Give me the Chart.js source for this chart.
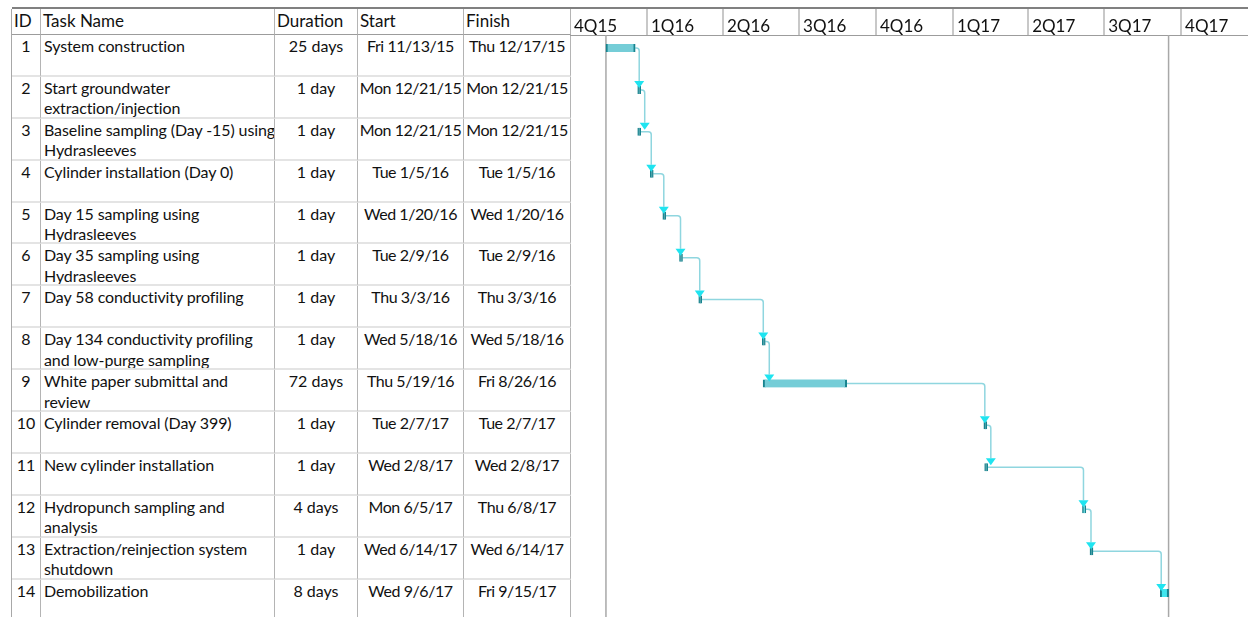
<!DOCTYPE html>
<html lang="en">
<head>
<meta charset="UTF-8">
<title>Project Schedule</title>
<script src="https://cdn.jsdelivr.net/npm/chart.js"></script>
<style>
    body {
        margin: 0;
        width: 1248px;
        height: 617px;
        overflow: hidden;
        position: relative;
        background: #fff;
        font-family: Lato, 'Open Sans', sans-serif;
        color: #111;
    }
    .topline {
        position: absolute;
        left: 12px;
        top: 7px;
        width: 1236px;
        height: 2px;
        background: #808080;
    }
    .grid {
        position: absolute;
        left: 11px;
        top: 9px;
        display: grid;
        grid-template-columns: 29px 234px 83px 106px 107px;
        grid-template-rows: 26px repeat(14, 41.9px);
        border-left: 1px solid #a8a8a8;
    }
    .cell {
        box-sizing: border-box;
        border-right: 1px solid #b4b4b4;
        border-bottom: 2px solid #e4e4e4;
        padding: 1px 0 0 3px;
        font-size: 16px;
        line-height: 20.5px;
        white-space: pre;
        overflow: hidden;
    }
    .cell.n { letter-spacing: -0.1px; }
    .cell.c { text-align: center; padding-left: 0; }
    .cell.d { letter-spacing: -0.45px; }
    .cell.h {
        font-size: 17px;
        line-height: 24px;
        padding: 0 2px;
        border-bottom: 1px solid #9c9c9c;
    }
    #gantt {
        position: absolute;
        left: 570px;
        top: 8px;
    }
</style>
</head>
<body>
<div class="topline"></div>
<div class="grid" id="table"></div>
<canvas id="gantt" width="678" height="614"></canvas>

<script>
    // ---- data ----
    const headers = ['ID', 'Task Name', 'Duration', 'Start', 'Finish'];
    const taskIds = [1, 2, 3, 4, 5, 6, 7, 8, 9, 10, 11, 12, 13, 14];
    const taskNames = [
        'System construction',
        'Start groundwater\nextraction/injection',
        'Baseline sampling (Day -15) using\nHydrasleeves',
        'Cylinder installation (Day 0)',
        'Day 15 sampling using\nHydrasleeves',
        'Day 35 sampling using\nHydrasleeves',
        'Day 58 conductivity profiling',
        'Day 134 conductivity profiling\nand low-purge sampling',
        'White paper submittal and\nreview',
        'Cylinder removal (Day 399)',
        'New cylinder installation',
        'Hydropunch sampling and\nanalysis',
        'Extraction/reinjection system\nshutdown',
        'Demobilization'
    ];
    const durations = ['25 days', '1 day', '1 day', '1 day', '1 day', '1 day', '1 day',
        '1 day', '72 days', '1 day', '1 day', '4 days', '1 day', '8 days'];
    const startLabels = ['Fri 11/13/15', 'Mon 12/21/15', 'Mon 12/21/15', 'Tue 1/5/16',
        'Wed 1/20/16', 'Tue 2/9/16', 'Thu 3/3/16', 'Wed 5/18/16', 'Thu 5/19/16',
        'Tue 2/7/17', 'Wed 2/8/17', 'Mon 6/5/17', 'Wed 6/14/17', 'Wed 9/6/17'];
    const finishLabels = ['Thu 12/17/15', 'Mon 12/21/15', 'Mon 12/21/15', 'Tue 1/5/16',
        'Wed 1/20/16', 'Tue 2/9/16', 'Thu 3/3/16', 'Wed 5/18/16', 'Fri 8/26/16',
        'Tue 2/7/17', 'Wed 2/8/17', 'Thu 6/8/17', 'Wed 6/14/17', 'Fri 9/15/17'];
    const startDates = ['2015-11-13', '2015-12-21', '2015-12-21', '2016-01-05',
        '2016-01-20', '2016-02-09', '2016-03-03', '2016-05-18', '2016-05-19',
        '2017-02-07', '2017-02-08', '2017-06-05', '2017-06-14', '2017-09-06'];
    const finishDates = ['2015-12-17', '2015-12-21', '2015-12-21', '2016-01-05',
        '2016-01-20', '2016-02-09', '2016-03-03', '2016-05-18', '2016-08-26',
        '2017-02-07', '2017-02-08', '2017-06-08', '2017-06-14', '2017-09-15'];
    const quarterLabels = ['4Q15', '1Q16', '2Q16', '3Q16', '4Q16', '1Q17', '2Q17', '3Q17', '4Q17'];
    const quarterStarts = ['2015-10-01', '2016-01-01', '2016-04-01', '2016-07-01', '2016-10-01',
        '2017-01-01', '2017-04-01', '2017-07-01', '2017-10-01'];
    const timelineEnd = '2017-12-20';

    // ---- table ----
    const table = document.getElementById('table');
    headers.forEach(h => {
        const d = document.createElement('div');
        d.className = 'cell h';
        d.textContent = h;
        table.appendChild(d);
    });
    taskIds.forEach((id, i) => {
        [[id, 'c'], [taskNames[i], 'n'], [durations[i], 'c'], [startLabels[i], 'c d'], [finishLabels[i], 'c d']]
            .forEach(([txt, cls]) => {
                const d = document.createElement('div');
                d.className = 'cell ' + cls;
                d.textContent = txt;
                table.appendChild(d);
            });
    });

    // ---- gantt ----
    const origin = Date.UTC(2015, 9, 1);
    function dayOf(s) {
        const [y, m, d] = s.split('-').map(Number);
        return (Date.UTC(y, m - 1, d) - origin) / 86400000;
    }
    const startDays = startDates.map(dayOf);
    const endDays = finishDates.map(s => dayOf(s) + 1);
    const quarterDays = quarterStarts.map(dayOf);
    const projectStart = Math.min(...startDays);
    const projectEnd = Math.max(...endDays);
    const brightTasks = [12, 14];

    function linkX(p, s) {
        const x0 = Math.max(p.x, p.base);
        return [x0, Math.max(x0 + 4, Math.min(s.x, s.base) + 1)];
    }

    const ganttDecor = {
        id: 'ganttDecor',
        beforeDatasetsDraw(chart) {
            const { ctx, chartArea: a, scales: { x } } = chart;
            ctx.save();
            // quarter separators in the header
            ctx.strokeStyle = '#c8c8c8';
            ctx.lineWidth = 2;
            quarterDays.slice(1).forEach(d => {
                const px = Math.round(x.getPixelForValue(d));
                ctx.beginPath();
                ctx.moveTo(px, 1);
                ctx.lineTo(px, a.top);
                ctx.stroke();
            });
            ctx.strokeStyle = '#9c9c9c';
            ctx.lineWidth = 1;
            ctx.beginPath();
            ctx.moveTo(0, a.top + 0.5);
            ctx.lineTo(a.right, a.top + 0.5);
            ctx.stroke();
            // project start / finish lines
            ctx.strokeStyle = '#a8a8a8';
            ctx.lineWidth = 1.5;
            [projectStart, projectEnd].forEach(d => {
                const px = x.getPixelForValue(d);
                ctx.beginPath();
                ctx.moveTo(px, a.top);
                ctx.lineTo(px, a.bottom);
                ctx.stroke();
            });
            // finish-to-start links
            const bars = chart.getDatasetMeta(0).data;
            ctx.strokeStyle = '#8fd6df';
            ctx.lineWidth = 1.5;
            for (let i = 0; i < bars.length - 1; i++) {
                const p = bars[i], s = bars[i + 1];
                const [x0, x1] = linkX(p, s);
                const y1 = s.y - 9;
                ctx.beginPath();
                ctx.moveTo(x0, p.y);
                ctx.arcTo(x1, p.y, x1, y1, 3);
                ctx.lineTo(x1, y1);
                ctx.stroke();
            }
            ctx.restore();
        },
        afterDatasetsDraw(chart) {
            const { ctx } = chart;
            const bars = chart.getDatasetMeta(0).data;
            ctx.save();
            ctx.fillStyle = '#1fe4f0';
            for (let i = 0; i < bars.length - 1; i++) {
                const p = bars[i], s = bars[i + 1];
                const x1 = linkX(p, s)[1];
                const tip = s.y - 2;
                ctx.beginPath();
                ctx.moveTo(x1 - 5, tip - 7);
                ctx.lineTo(x1 + 5, tip - 7);
                ctx.lineTo(x1, tip);
                ctx.closePath();
                ctx.fill();
            }
            ctx.restore();
        }
    };

    new Chart(document.getElementById('gantt'), {
        type: 'bar',
        data: {
            datasets: [{
                data: taskIds.map((id, i) => ({ x: [startDays[i], endDays[i]], y: i + 0.31 })),
                backgroundColor: c => {
                    const i = c.dataIndex;
                    if (endDays[i] - startDays[i] <= 1) return '#17838e';
                    return brightTasks.includes(i + 1) ? '#3fe6ee' : '#75cdd7';
                },
                borderColor: '#17838e',
                borderWidth: { left: 2, right: 2, top: 0, bottom: 0 },
                borderSkipped: false,
                barThickness: 8,
                minBarLength: 3
            }]
        },
        options: {
            indexAxis: 'y',
            responsive: false,
            animation: false,
            layout: { padding: 0 },
            plugins: {
                legend: { display: false },
                tooltip: { enabled: false }
            },
            scales: {
                x: {
                    type: 'linear',
                    position: 'top',
                    min: 0,
                    max: dayOf(timelineEnd),
                    afterBuildTicks: s => { s.ticks = quarterDays.map(v => ({ value: v })); },
                    afterFit: s => { s.height = 27; },
                    grid: { display: false, drawTicks: false },
                    border: { display: false },
                    ticks: {
                        autoSkip: false,
                        maxRotation: 0,
                        align: 'start',
                        labelOffset: 4,
                        padding: 0,
                        color: '#111',
                        font: { family: 'Lato', size: 17, lineHeight: 1 },
                        callback: (v, i) => quarterLabels[i]
                    }
                },
                y: {
                    type: 'linear',
                    min: 0,
                    max: 14,
                    reverse: true,
                    offset: false,
                    display: false
                }
            }
        },
        plugins: [ganttDecor]
    });
</script>
</body>
</html>
